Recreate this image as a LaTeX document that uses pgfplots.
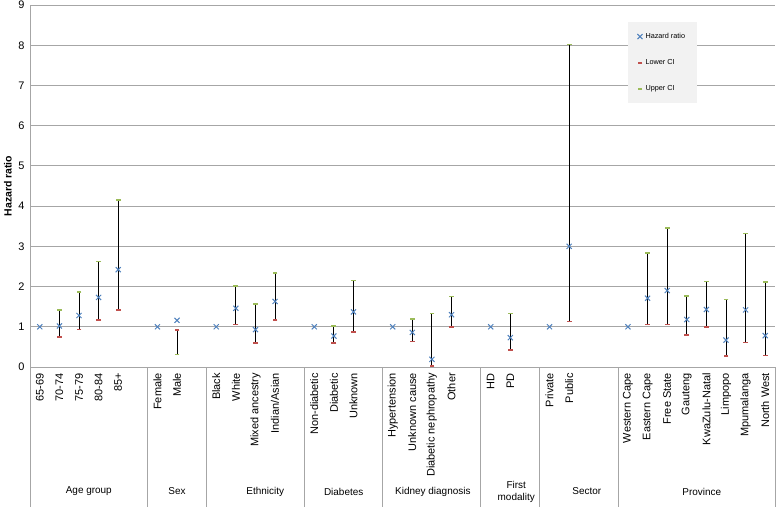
\documentclass[border=0pt]{standalone}
\usepackage{pgfplots}
\pgfplotsset{compat=1.18}
\usepackage{pgfplotstable}
\usepackage{fontspec}
\setmainfont{Liberation Sans}
\definecolor{hrblue}{HTML}{4F81BD}
\definecolor{lored}{HTML}{C0504D}
\definecolor{upgreen}{HTML}{9BBB59}
\definecolor{gridgray}{HTML}{A6A6A6}
\pgfplotstableread{
x hr lo hi
0 1 nan nan
1 1.02 0.75 1.42
2 1.28 0.93 1.86
3 1.73 1.17 2.62
4 2.42 1.42 4.15
6 1 nan nan
7 1.16 0.92 0.31
9 1 nan nan
10 1.46 1.06 2.02
11 0.93 0.59 1.56
12 1.63 1.17 2.33
14 1 nan nan
15 0.77 0.59 1.02
16 1.37 0.87 2.15
18 1 nan nan
19 0.86 0.63 1.19
20 0.19 0.03 1.33
21 1.30 1.00 1.75
23 1 nan nan
24 0.73 0.43 1.33
26 1 nan nan
27 3.00 1.13 8.02
30 1 nan nan
31 1.71 1.06 2.84
32 1.90 1.06 3.45
33 1.18 0.80 1.77
34 1.43 0.99 2.13
35 0.67 0.27 1.68
36 1.42 0.61 3.32
37 0.78 0.29 2.11
}\hrdata
\begin{document}
\begin{tikzpicture}
\begin{axis}[
  scale only axis,
  width=745bp, height=362bp,
  xmin=-0.5, xmax=37.5, ymin=0, ymax=9,
  clip=false,
  axis x line=bottom, axis y line=left,
  axis line style={gridgray, line width=1bp, -},
  ytick={0,...,9},
  ymajorgrids, grid style={gridgray, line width=1bp},
  major tick length=0pt,
  /pgf/number format/assume math mode=true,
  yticklabel style={font=\fontsize{11}{12}\selectfont, xshift=-2bp},
  xtick={0,1,2,3,4,6,7,9,10,11,12,14,15,16,18,19,20,21,23,24,26,27,30,31,32,33,34,35,36,37},
  xticklabels={65-69,70-74,75-79,80-84,85+,Female,Male,Black,White,Mixed ancestry,Indian/Asian,Non-diabetic,Diabetic,Unknown,Hypertension,Unknown cause,Diabetic nephropathy,Other,HD,PD,Private,Public,Western Cape,Eastern Cape,Free State,Gauteng,KwaZulu-Natal,Limpopo,Mpumalanga,North West},
  xticklabel style={yshift=-6bp, rotate=90, anchor=east, font=\fontsize{11}{12}\selectfont, inner sep=0pt},
  ylabel={\textbf{Hazard ratio}},
  every axis y label/.style={at={(axis description cs:0,0.5)}, xshift=-22bp, rotate=90, anchor=center, font=\fontsize{10.5}{12}\selectfont},
  unbounded coords=discard,
  legend style={at={(axis description cs:0.803,0.953)}, anchor=north west, fill=black!5, draw=none,
    font=\fontsize{7.3}{8}\selectfont, row sep=15.5bp, inner xsep=9bp, inner ysep=9bp,
    nodes={inner xsep=3bp}},
  legend cell align=left,
  legend image code/.code={\draw[#1] plot coordinates {(2bp,0bp)};},
]
\coordinate (O) at (rel axis cs:0,0);
% high-low lines
\addplot[draw=none, mark=none, forget plot,
  error bars/.cd, y dir=both, y explicit, error mark=none,
  error bar style={black, line width=0.9bp}]
  table[x=x, y expr={(\thisrow{lo}+\thisrow{hi})/2}, y error expr={abs(\thisrow{hi}-\thisrow{lo})/2}] {\hrdata};
\addplot[only marks, mark=x, mark size=3.6bp, hrblue, line width=1bp] table[x=x, y=hr] {\hrdata};
\addlegendentry{Hazard ratio}
\addplot[only marks, mark=-, mark size=2.4bp, lored, line width=1.6bp] table[x=x, y=lo] {\hrdata};
\addlegendentry{Lower CI}
\addplot[only marks, mark=-, mark size=2.4bp, upgreen, line width=1.6bp] table[x=x, y=hi] {\hrdata};
\addlegendentry{Upper CI}
% group separators
\pgfplotsinvokeforeach{-0.5,5.5,8.5,13.5,17.5,22.5,25.5,29.5,37.5}{
  \draw[gridgray, line width=1bp] (axis cs:#1,0) -- ([yshift=-140bp]axis cs:#1,0);
}
\begingroup
\fontsize{11}{12.5}\selectfont
\node at ([yshift=-124.5bp]axis cs:2.5,0) {Age group};
\node at ([yshift=-124.5bp]axis cs:7,0) {Sex};
\node at ([yshift=-124.5bp]axis cs:11.5,0) {Ethnicity};
\node at ([yshift=-124.5bp]axis cs:15.5,0) {Diabetes};
\node at ([yshift=-124.5bp]axis cs:20.05,0) {Kidney diagnosis};
\node[align=center, inner sep=0pt] at ([yshift=-125bp]axis cs:24.3,0) {First\\modality};
\node at ([yshift=-124.5bp]axis cs:27.9,0) {Sector};
\node at ([yshift=-124.5bp]axis cs:33.77,0) {Province};
\endgroup
\end{axis}
\pgfresetboundingbox
\path[use as bounding box] (O) ++(-30bp,-140bp) rectangle ++(778bp,507bp);
\end{tikzpicture}
\end{document}
